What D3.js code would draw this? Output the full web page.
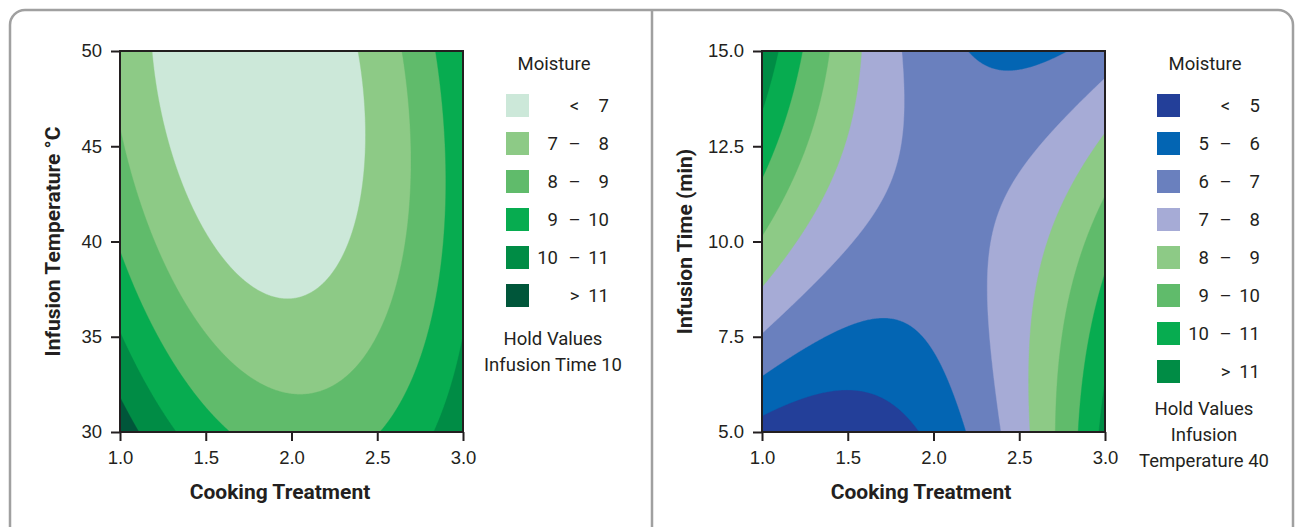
<!DOCTYPE html>
<html>
<head>
<meta charset="utf-8">
<script src="https://cdn.jsdelivr.net/npm/d3@7"></script>
<style>
  html, body { margin: 0; padding: 0; background: #ffffff; }
  svg { display: block; font-family: Roboto, "DejaVu Sans", sans-serif; }
</style>
</head>
<body>
<svg id="chart" width="1296" height="527"></svg>
<script>
// Fitted response-surface model for Moisture, in coded units:
//   c = Cooking Treatment - 2, u = (Infusion Temperature - 40) / 10, tau = (Infusion Time - 10) / 5
const termNames  = ["const", "c", "u", "tau", "c^2", "u^2", "tau^2", "c*u", "c*tau", "u*tau"];
const termCoefs  = [6.58, 0.36, -1.175, 0.58, 2.68, 0.75, -0.74, 0.78, -3.00, 0.0];

// Hold values for the factor not shown on each panel
const holdInfusionTime = 10;
const holdInfusionTemp = 40;

// Axis ranges and ticks
const cookingDomain = [1, 3];
const cookingTicks = [1.0, 1.5, 2.0, 2.5, 3.0];
const tempDomain = [30, 50];
const tempTicks = [30, 35, 40, 45, 50];
const timeDomain = [5, 15];
const timeTicks = [5.0, 7.5, 10.0, 12.5, 15.0];

// Contour levels and band colours (lowest band first)
const levelsLeft = [7, 8, 9, 10, 11];
const colorsLeft = ["#cce8d9", "#8dca86", "#60bb6b", "#07ac50", "#008c45", "#00563a"];
const levelsRight = [5, 6, 7, 8, 9, 10, 11];
const colorsRight = ["#233f99", "#0365b3", "#6a80be", "#a6abd6", "#8dca86", "#60bb6b", "#07ac50", "#008c45"];

function moisture(C, T, t) {
  const c = C - 2, u = (T - 40) / 10, tau = (t - 10) / 5;
  const x = [1, c, u, tau, c * c, u * u, tau * tau, c * u, c * tau, u * tau];
  let s = 0;
  for (let i = 0; i < x.length; i++) s += termCoefs[i] * x[i];
  return s;
}

const svg = d3.select("#chart");
const ink = "#231f20";

// Card outline and divider
svg.append("rect")
  .attr("x", 10).attr("y", 10).attr("width", 1283).attr("height", 620)
  .attr("rx", 15).attr("ry", 15)
  .attr("fill", "none").attr("stroke", "#a0a0a0").attr("stroke-width", 2.5);
svg.append("line")
  .attr("x1", 652).attr("x2", 652).attr("y1", 10).attr("y2", 527)
  .attr("stroke", "#a0a0a0").attr("stroke-width", 2.5);

function drawPanel(opt) {
  const { x0, y0, W, H, yDomain, yTicks, yFormat, yTitle, levels, colors, valueAt, legendX, holdLines, xTitleX, yTitleX } = opt;
  const g = svg.append("g");
  const xs = d3.scaleLinear().domain(cookingDomain).range([x0, x0 + W]);
  const ys = d3.scaleLinear().domain(yDomain).range([y0 + H, y0]);

  // Sample the surface on a pixel grid and trace filled contours
  const n = Math.round(W), m = Math.round(H);
  const values = new Float64Array(n * m);
  for (let j = 0; j < m; j++) {
    const yv = ys.invert(y0 + (j + 0.5) * H / m);
    for (let i = 0; i < n; i++) {
      const xv = xs.invert(x0 + (i + 0.5) * W / n);
      values[i + j * n] = valueAt(xv, yv);
    }
  }
  const contours = d3.contours().size([n, m]).thresholds(levels)(values);
  const path = d3.geoPath(d3.geoTransform({
    point(px, py) { this.stream.point(x0 + px * W / n, y0 + py * H / m); }
  }));

  const clipId = "clip" + Math.round(x0);
  svg.append("clipPath").attr("id", clipId)
    .append("rect").attr("x", x0).attr("y", y0).attr("width", W).attr("height", H);
  const plot = g.append("g").attr("clip-path", `url(#${clipId})`);
  plot.append("rect").attr("x", x0).attr("y", y0).attr("width", W).attr("height", H)
    .attr("fill", colors[0]);
  plot.selectAll("path.band").data(contours).join("path")
    .attr("class", "band")
    .attr("d", path)
    .attr("fill", (d, i) => colors[i + 1])
    .attr("stroke", (d, i) => colors[i + 1])
    .attr("stroke-width", 0.4);

  // Axes
  const xAxis = d3.axisBottom(xs).tickValues(cookingTicks).tickFormat(d3.format(".1f"))
    .tickSize(9).tickPadding(10);
  const yAxis = d3.axisLeft(ys).tickValues(yTicks).tickFormat(yFormat)
    .tickSize(9).tickPadding(9);
  const ax = g.append("g").attr("transform", `translate(0,${y0 + H})`).call(xAxis);
  const ay = g.append("g").attr("transform", `translate(${x0},0)`).call(yAxis);
  [ax, ay].forEach(a => {
    a.select(".domain").remove();
    a.selectAll(".tick line").attr("stroke", ink).attr("stroke-width", 2);
    a.selectAll(".tick text").attr("fill", ink).attr("font-size", 18.5);
  });

  g.append("rect").attr("x", x0).attr("y", y0).attr("width", W).attr("height", H)
    .attr("fill", "none").attr("stroke", ink).attr("stroke-width", 2);

  // Axis titles
  g.append("text").attr("x", xTitleX).attr("y", 499)
    .attr("text-anchor", "middle").attr("font-size", 21).attr("font-weight", 700)
    .attr("fill", ink).text("Cooking Treatment");
  g.append("text")
    .attr("transform", `translate(${yTitleX},${y0 + H / 2}) rotate(-90)`)
    .attr("text-anchor", "middle").attr("font-size", 21).attr("font-weight", 700)
    .attr("fill", ink).text(yTitle);

  // Legend
  const lg = g.append("g");
  lg.append("text").attr("x", legendX + 48).attr("y", 70)
    .attr("text-anchor", "middle").attr("font-size", 18.5).attr("fill", ink).text("Moisture");
  const rows = colors.map((col, i) => {
    if (i === 0) return { col, a: "", s: "<", b: levels[0] };
    if (i === colors.length - 1) return { col, a: "", s: ">", b: levels[levels.length - 1] };
    return { col, a: levels[i - 1], s: "\u2013", b: levels[i] };
  });
  rows.forEach((r, i) => {
    const yTop = 94 + i * 38;
    lg.append("rect").attr("x", legendX).attr("y", yTop).attr("width", 23).attr("height", 23)
      .attr("fill", r.col);
    const ty = yTop + 11.5;
    lg.append("text").attr("x", legendX + 52).attr("y", ty).attr("dy", "0.35em")
      .attr("text-anchor", "end").attr("font-size", 18.5).attr("fill", ink).text(r.a);
    lg.append("text").attr("x", legendX + 68.5).attr("y", ty).attr("dy", "0.35em")
      .attr("text-anchor", "middle").attr("font-size", 18.5).attr("fill", ink).text(r.s);
    lg.append("text").attr("x", legendX + 103).attr("y", ty).attr("dy", "0.35em")
      .attr("text-anchor", "end").attr("font-size", 18.5).attr("fill", ink).text(r.b);
  });
  holdLines.forEach((line, i) => {
    lg.append("text").attr("x", legendX + 47).attr("y", holdLines.baseY + i * 26)
      .attr("text-anchor", "middle").attr("font-size", 18.5).attr("fill", ink).text(line);
  });
}

const leftHold = ["Hold Values", "Infusion Time " + holdInfusionTime];
leftHold.baseY = 345;
drawPanel({
  x0: 120, y0: 51, W: 343, H: 381,
  yDomain: tempDomain, yTicks: tempTicks, yFormat: d3.format("d"),
  yTitle: "Infusion Temperature \u00b0C",
  levels: levelsLeft, colors: colorsLeft,
  valueAt: (C, T) => moisture(C, T, holdInfusionTime),
  legendX: 506, holdLines: leftHold, xTitleX: 280, yTitleX: 60
});

const rightHold = ["Hold Values", "Infusion", "Temperature " + holdInfusionTemp];
rightHold.baseY = 415;
drawPanel({
  x0: 762, y0: 51, W: 343, H: 381,
  yDomain: timeDomain, yTicks: timeTicks, yFormat: d3.format(".1f"),
  yTitle: "Infusion Time (min)",
  levels: levelsRight, colors: colorsRight,
  valueAt: (C, t) => moisture(C, holdInfusionTemp, t),
  legendX: 1157, holdLines: rightHold, xTitleX: 921, yTitleX: 692
});
</script>
</body>
</html>
